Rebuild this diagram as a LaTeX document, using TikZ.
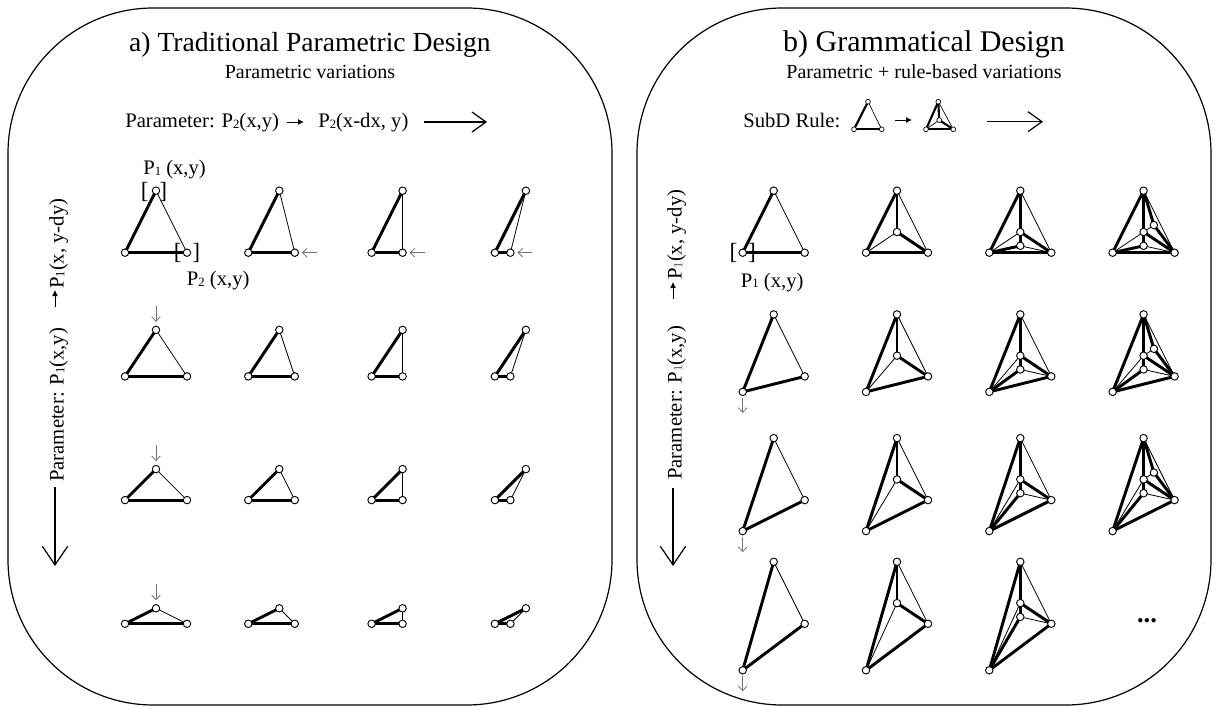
\documentclass[tikz,border=0pt]{standalone}
\usepackage{fontspec}
\setmainfont{Liberation Serif}
\usetikzlibrary{arrows.meta}
\pgfdeclarelayer{bg}
\pgfsetlayers{bg,main}
\newcommand{\Sb}[1]{{\fontsize{9.5}{9.5}\selectfont\raisebox{-0.6pt}{#1}}}
\definecolor{subblue}{HTML}{3A5DAE}
\begin{document}
\begin{tikzpicture}[x=0.75pt,y=-0.75pt,
  vtx/.style={circle,draw,fill=white,inner sep=0pt,minimum size=5.6pt,line width=0.7pt},
  svtx/.style={circle,draw,fill=white,inner sep=0pt,minimum size=3.6pt,line width=0.5pt},
  thk/.style={line width=2.2pt,line cap=round},
  thn/.style={line width=0.6pt},
  sthk/.style={line width=1.6pt,line cap=round},
  sthn/.style={line width=0.5pt},
  lbl/.style={font=\fontsize{15.5}{18}\selectfont, inner sep=0pt},
  brk/.style={font=\fontsize{17.5}{20}\selectfont, inner sep=0pt},
  sub/.style={font=\fontsize{15}{18}\selectfont, inner sep=0pt},
  ttl/.style={font=\fontsize{20.7}{24}\selectfont, inner sep=0pt},
  garr/.style={draw=black!55, line width=0.6pt, -{Straight Barb[length=3.5pt,width=6.5pt]}},
  sarr/.style={line width=0.7pt, -{Latex[length=4.5pt,width=4.5pt]}},
  bigarr/.style={line width=0.9pt, -{Straight Barb[length=10.5pt,width=15pt]}},
  vbigarr/.style={line width=0.9pt, -{Straight Barb[length=14pt,width=19pt]}},
  panel/.style={draw, line width=0.9pt, rounded corners=109pt}
]
\useasboundingbox (0,0) rectangle (1218,706);

% panels
\draw[panel] (8,8) rectangle (612,705);
\draw[panel] (637,8) rectangle (1211,705);

% ---------- left panel texts ----------
\node[ttl, anchor=base] (ta) at (310,52) {a) Traditional Parametric Design};
\node[sub, anchor=base] (sa) at (310,79) {Parametric variations};
\node[lbl, anchor=base west] (pa1) at (125,128) {Parameter: P\Sb{2}(x,y)};
\node[lbl, anchor=base west] (pa2) at (318,128) {P\Sb{2}(x-dx, y)};
\coordinate (paS) at (287,122);
\coordinate (paE) at (304,122);
\draw[sarr] (paS) -- (paE);
\coordinate (pbS) at (424,122);
\coordinate (pbE) at (487,122);
\draw[bigarr] (pbS) -- (pbE);

\node[lbl, rotate=90, anchor=base west] (va1) at (63.5,482) {Parameter: P\Sb{1}(x,y)};
\node[lbl, rotate=90, anchor=base west] (va2) at (63.5,289) {P\Sb{1}(x, y-dy)};
\coordinate (vaS) at (55,307);
\coordinate (vaE) at (55,290);
\draw[sarr] (vaS) -- (vaE);
\coordinate (vbS) at (55,487);
\coordinate (vbE) at (55,566);
\draw[vbigarr] (vbS) -- (vbE);

% ---------- left grid ----------
\foreach \r in {0,...,3}{
 \foreach \c in {0,...,3}{
  \pgfmathsetmacro{\Lxo}{125+123.3*\c}
  \pgfmathsetmacro{\Lyo}{252.7+123.7*\r}
  \pgfmathsetmacro{\Lxb}{\Lxo+62-15.5*\c}
  \pgfmathsetmacro{\Lxt}{\Lxo+31}
  \pgfmathsetmacro{\Lyt}{\Lyo-62+15.5*\r}
  \node[vtx] (L-\r-\c-A) at (\Lxo,\Lyo) {};
  \node[vtx] (L-\r-\c-B) at (\Lxb,\Lyo) {};
  \node[vtx] (L-\r-\c-T) at (\Lxt,\Lyt) {};
  \begin{pgfonlayer}{bg}
   \draw[thk] (L-\r-\c-A.center) -- (L-\r-\c-T.center);
   \draw[thk] (L-\r-\c-A.center) -- (L-\r-\c-B.center);
   \draw[thn] (L-\r-\c-B.center) -- (L-\r-\c-T.center);
  \end{pgfonlayer}
 }
}
\foreach \c in {1,2,3}{
 \coordinate (LaS\c) at ([xshift=16.5pt]L-0-\c-B.center);
 \coordinate (LaE\c) at ([xshift=5.25pt]L-0-\c-B.center);
 \draw[garr] (LaS\c) -- (LaE\c);
}
\foreach \r in {1,2,3}{
 \coordinate (LdS\r) at ([yshift=18pt]L-\r-0-T.center);
 \coordinate (LdE\r) at ([yshift=6pt]L-\r-0-T.center);
 \draw[garr] (LdS\r) -- (LdE\r);
}
\node[brk] (brT) at ([xshift=-1.5pt,yshift=-1pt]L-0-0-T.center) {[\hspace{8pt}]};
\node[brk] (brB) at (L-0-0-B.center) {[\hspace{8pt}]};
\node[lbl, anchor=base west] (p1) at (143,175) {P\Sb{1} (x,y)};
\node[lbl, anchor=base west] (p2) at (186.7,286) {P\Sb{2} (x,y)};

% ---------- right panel texts ----------
\node[ttl, font=\fontsize{22.5}{26}\selectfont, anchor=base] (tb) at (924,52) {b) Grammatical Design};
\node[sub, anchor=base] (sbb) at (924,79) {Parametric + rule-based variations};
\node[lbl, anchor=base west] (subd) at (743,128) {SubD Rule:};
% icon 1
\node[svtx] (i1T) at (868,101.7) {};
\node[svtx] (i1A) at (854,129.3) {};
\node[svtx] (i1B) at (881.7,129.3) {};
% icon 2
\node[svtx] (i2T) at (938.3,101.7) {};
\node[svtx] (i2A) at (926,129.3) {};
\node[svtx] (i2B) at (953.3,129.3) {};
\node[svtx] (i2C) at (939.2,120.1) {};
\begin{pgfonlayer}{bg}
 \draw[sthk] (i1A.center) -- (i1T.center);
 \draw[sthk] (i1A.center) -- (i1B.center);
 \draw[sthn] (i1B.center) -- (i1T.center);
 \draw[sthk] (i2A.center) -- (i2T.center);
 \draw[sthk] (i2A.center) -- (i2B.center);
 \draw[sthn] (i2B.center) -- (i2T.center);
 \draw[sthk] (i2T.center) -- (i2C.center);
 \draw[sthk] (i2C.center) -- (i2B.center);
 \draw[sthn] (i2C.center) -- (i2A.center);
\end{pgfonlayer}
\coordinate (rsS) at (895,120);
\coordinate (rsE) at (912,120);
\draw[sarr] (rsS) -- (rsE);
\coordinate (rbS) at (987,121.7);
\coordinate (rbE) at (1043,121.7);
\draw[bigarr] (rbS) -- (rbE);

\node[lbl, rotate=90, anchor=base west] (vb1) at (681.5,480) {Parameter: P\textcolor{subblue}{\Sb{1}}(x,y)};
\node[lbl, rotate=90, anchor=base west] (vb2) at (681.5,280) {P\textcolor{subblue}{\Sb{1}}(x, y-dy)};
\coordinate (vcS) at (673,299);
\coordinate (vcE) at (673,282);
\draw[sarr] (vcS) -- (vcE);
\coordinate (vdS) at (673,488);
\coordinate (vdE) at (673,566);
\draw[vbigarr] (vdS) -- (vdE);

% ---------- right grid ----------
\foreach \r in {0,...,3}{
 \foreach \c in {0,...,3}{
  \ifnum\numexpr\r*10+\c\relax=33 \else
  \pgfmathsetmacro{\Rxo}{742.7+123.3*\c}
  \pgfmathsetmacro{\Ryo}{252.7+123.7*\r}
  \pgfmathsetmacro{\Rya}{\Ryo+15.5*\r}
  \node[vtx] (R-\r-\c-A) at (\Rxo,\Rya) {};
  \node[vtx] (R-\r-\c-B) at ({\Rxo+62},\Ryo) {};
  \node[vtx] (R-\r-\c-T) at ({\Rxo+31},{\Ryo-62}) {};
  \begin{pgfonlayer}{bg}
   \draw[thk] (R-\r-\c-A.center) -- (R-\r-\c-T.center);
   \draw[thk] (R-\r-\c-A.center) -- (R-\r-\c-B.center);
   \draw[thn] (R-\r-\c-B.center) -- (R-\r-\c-T.center);
  \end{pgfonlayer}
  \ifnum\c>0
   \node[vtx] (R-\r-\c-C) at ({\Rxo+31},{\Ryo-20.7}) {};
   \begin{pgfonlayer}{bg}
    \draw[thk] (R-\r-\c-T.center) -- (R-\r-\c-C.center);
    \draw[thk] (R-\r-\c-C.center) -- (R-\r-\c-B.center);
    \draw[thn] (R-\r-\c-C.center) -- (R-\r-\c-A.center);
   \end{pgfonlayer}
  \fi
  \ifnum\c>1
   \node[vtx] (R-\r-\c-D) at ({\Rxo+31},{\Ryo-6.9}) {};
   \begin{pgfonlayer}{bg}
    \draw[thk] (R-\r-\c-C.center) -- (R-\r-\c-D.center);
    \draw[thk] (R-\r-\c-A.center) -- (R-\r-\c-D.center);
    \draw[thn] (R-\r-\c-D.center) -- (R-\r-\c-B.center);
   \end{pgfonlayer}
  \fi
  \ifnum\c>2
   \node[vtx] (R-\r-\c-E) at ({\Rxo+41.3},{\Ryo-27.6}) {};
   \begin{pgfonlayer}{bg}
    \draw[thk] (R-\r-\c-T.center) -- (R-\r-\c-E.center);
    \draw[thk] (R-\r-\c-E.center) -- (R-\r-\c-B.center);
    \draw[thn] (R-\r-\c-E.center) -- (R-\r-\c-C.center);
   \end{pgfonlayer}
  \fi
  \fi
 }
}
\foreach \r in {1,2,3}{
 \coordinate (RdS\r) at ([yshift=-4.5pt]R-\r-0-A.center);
 \coordinate (RdE\r) at ([yshift=-15.75pt]R-\r-0-A.center);
 \draw[garr] (RdS\r) -- (RdE\r);
}
\node[brk] (brR) at (R-0-0-A.center) {[\hspace{8pt}]};
\node[lbl, anchor=base west] (p1r) at (740.7,287) {P\Sb{1} (x,y)};
\node[font=\fontsize{20}{22}\selectfont\bfseries, inner sep=0pt] (dots) at (1147,621) {...};
\end{tikzpicture}
\end{document}
